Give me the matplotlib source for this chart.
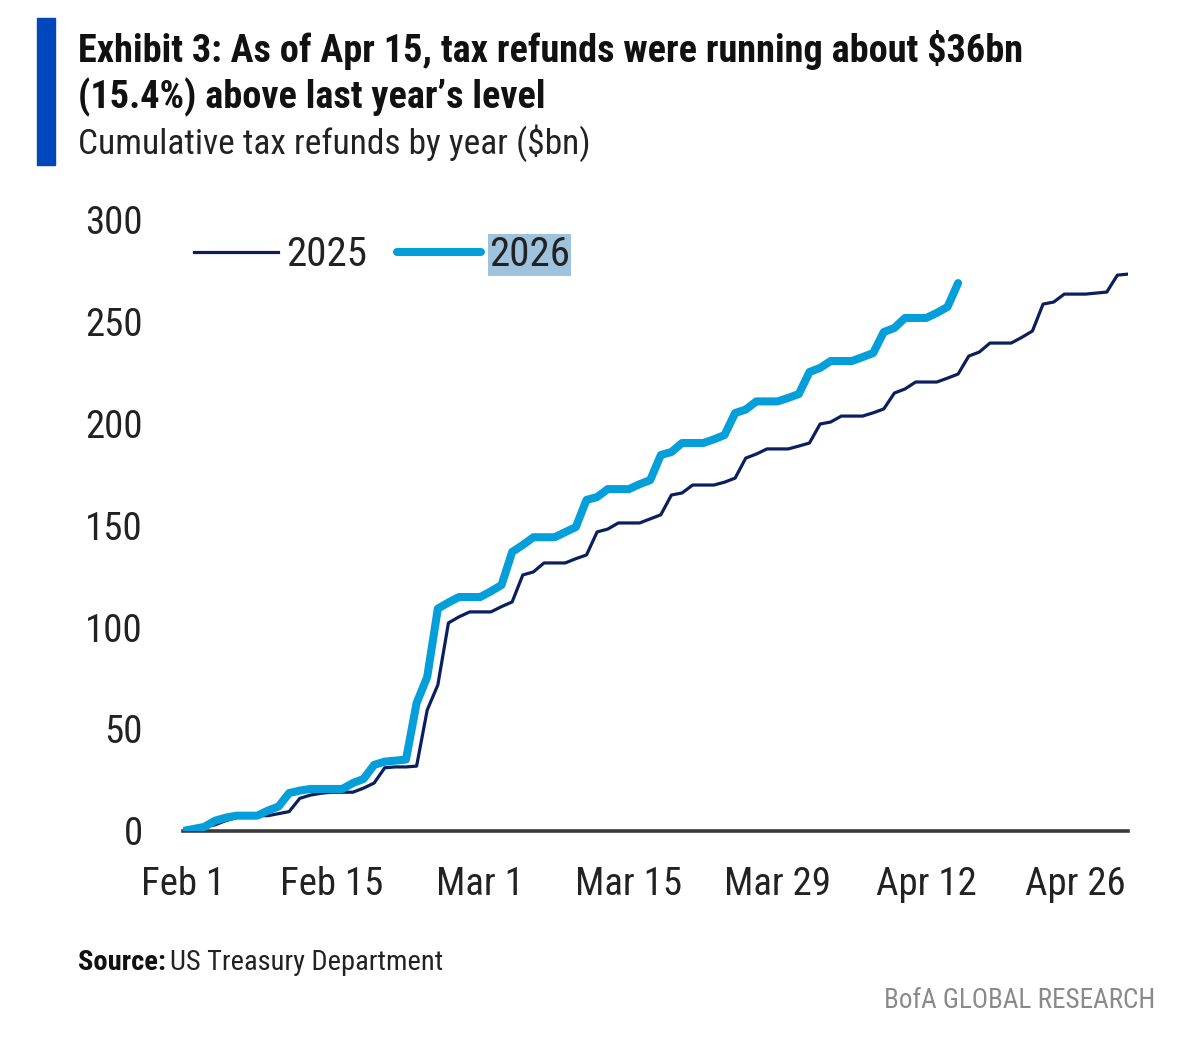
import matplotlib
matplotlib.use("Agg")
import matplotlib.pyplot as plt

plt.rcParams['font.family'] = ['Roboto Condensed', 'Liberation Sans Narrow', 'Roboto', 'DejaVu Sans']

# days since Feb 1, cumulative refunds in $bn
refunds_2025 = [1.0, 1.0, 2.0, 3.0, 5.0, 6.5, 7.5, 7.5, 7.5, 8.5,
                9.5, 16.0, 17.6, 18.5, 19.0, 19.0, 19.0, 21.0, 23.5, 31.0,
                31.4, 31.4, 31.8, 59.3, 71.6, 102.0, 105.0, 107.4, 107.4, 107.4,
                110.0, 112.3, 125.5, 127.0, 131.4, 131.4, 131.4, 133.5, 135.3, 146.6,
                148.0, 151.0, 151.0, 151.0, 153.0, 155.0, 164.7, 165.7, 169.6, 169.6,
                169.6, 171.0, 173.0, 182.8, 184.8, 187.3, 187.3, 187.3, 188.7, 190.2,
                199.5, 200.5, 203.4, 203.4, 203.4, 205.0, 206.9, 214.7, 216.7, 220.1,
                220.1, 220.1, 222.0, 224.0, 232.8, 234.8, 239.2, 239.2, 239.2, 242.0,
                245.1, 258.3, 259.3, 263.2, 263.2, 263.2, 263.7, 264.2, 272.5, 273.0]
refunds_2026 = [0.0, 1.0, 2.0, 5.0, 6.5, 7.5, 7.5, 7.5, 10.0, 12.0,
                18.6, 19.8, 20.6, 20.6, 20.6, 20.6, 23.5, 25.5, 32.4, 34.0,
                34.5, 35.0, 62.7, 75.5, 109.0, 112.0, 114.7, 114.7, 114.7, 117.5,
                120.6, 136.8, 140.2, 144.0, 144.0, 144.0, 146.5, 149.0, 162.3, 163.7,
                167.6, 167.6, 167.6, 170.0, 172.0, 184.3, 185.8, 190.2, 190.2, 190.2,
                192.0, 194.1, 204.9, 206.6, 210.6, 210.6, 210.6, 212.3, 214.2, 225.0,
                227.0, 230.4, 230.4, 230.4, 232.3, 234.3, 244.6, 246.6, 251.5, 251.5,
                251.5, 254.0, 256.9, 268.6]
tick_days = [0, 14, 28, 42, 56, 70, 84]
tick_labels = ["Feb 1", "Feb 15", "Mar 1", "Mar 15", "Mar 29", "Apr 12", "Apr 26"]
y_ticks = [0, 50, 100, 150, 200, 250, 300]

fig = plt.figure(figsize=(12, 10.45), dpi=100)
ax = fig.add_axes([0.1525, 0.2048, 0.7875, 0.5856])

ax.plot(range(len(refunds_2025)), refunds_2025, color="#0b1f5e", lw=2.3, label="2025", zorder=3)
ax.plot(range(len(refunds_2026)), refunds_2026, color="#049fdb", lw=5.8, label="2026",
        solid_capstyle="round", zorder=4)

ax.set_xlim(0, 89)
ax.set_ylim(0, 300)
ax.set_xticks(tick_days, tick_labels)
ax.set_yticks(y_ticks)
ax.tick_params(length=0, labelsize=28, colors="#222222")
ax.tick_params(axis="x", pad=25)
ax.tick_params(axis="y", pad=29)
for s in ["top", "right", "left"]:
    ax.spines[s].set_visible(False)
ax.spines["bottom"].set_color("#3a3a3a")
ax.spines["bottom"].set_linewidth(2.6)
ax.spines["bottom"].set_zorder(2)

leg = ax.legend(loc="center left", bbox_to_anchor=(0.1617, 0.756), bbox_transform=fig.transFigure,
                ncol=2, frameon=False, fontsize=29.5, handlelength=2.05, handletextpad=0.2,
                columnspacing=0.72, borderpad=0, borderaxespad=0)
for t in leg.get_texts():
    t.set_color("#222222")
leg.get_texts()[1].set_bbox(dict(facecolor="#9fc2dd", edgecolor="none", pad=1.0))

# header
fig.patches.append(plt.Rectangle((37 / 1200, 1 - 165 / 1045), 18 / 1200, 147 / 1045,
                                 transform=fig.transFigure, color="#0047bb"))
fig.text(78 / 1200, 1 - 50 / 1045, "Exhibit 3: As of Apr 15, tax refunds were running about $36bn",
         fontsize=27.5, fontweight="bold", color="#111111", va="center")
fig.text(78 / 1200, 1 - 97 / 1045, "(15.4%) above last year\u2019s level",
         fontsize=27.5, fontweight="bold", color="#111111", va="center")
fig.text(78 / 1200, 1 - 143 / 1045, "Cumulative tax refunds by year ($bn)",
         fontsize=25.5, color="#222222", va="center")

src = fig.text(78 / 1200, 1 - 963 / 1045, "Source:", fontsize=20.5, fontweight="bold",
               color="#111111", va="center")
fig.texts.append(plt.Annotation("US Treasury Department", xy=(1, 0.5), xycoords=src,
                                xytext=(3, 0), textcoords="offset points", fontsize=20.5,
                                color="#222222", va="center"))
fig.texts[-1].set_figure(fig)
fig.text(1155 / 1200, 1 - 1000 / 1045, "BofA GLOBAL RESEARCH", fontsize=19.5, color="#8a8a8a",
         va="center", ha="right")

fig.savefig("out.png", dpi=100, facecolor="white")
